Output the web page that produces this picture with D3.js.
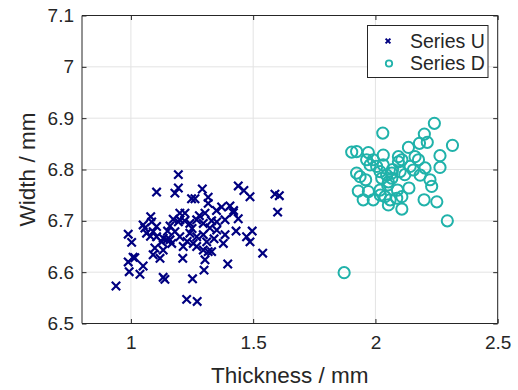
<!DOCTYPE html>
<html>
<head>
<meta charset="utf-8">
<script src="https://cdn.jsdelivr.net/npm/d3@7"></script>
<style>
  html, body { margin: 0; padding: 0; background: #fff; }
  svg { display: block; }
  text { font-family: "Liberation Sans", Arial, Helvetica, sans-serif; fill: #262626; }
</style>
</head>
<body>
<svg id="chart" width="518" height="390"></svg>
<script>
// Series U: thickness (mm) and width (mm) pairs
const seriesUThickness = [
  1.194, 1.105, 1.194, 1.180, 1.292, 1.248, 1.262, 1.316, 1.316, 1.439,
  1.462, 1.487, 1.589, 1.607, 1.600, 1.371, 1.405, 1.419, 1.439, 1.081,
  1.050, 1.057, 0.989, 1.003, 1.091, 1.105, 1.126, 1.160, 1.173, 1.200,
  1.221, 1.241, 1.269, 1.296, 1.323, 1.351, 1.385, 1.241, 1.269, 1.296,
  1.200, 1.214, 1.255, 1.269, 1.296, 1.316, 1.303, 1.212, 1.385, 1.378,
  1.473, 1.496, 1.487, 1.539, 1.396, 1.299, 1.252, 1.132, 1.139, 1.228,
  1.271, 0.939, 0.993, 1.037, 1.050, 0.989, 1.009, 1.016, 1.091, 1.119,
  1.132, 1.098, 1.146, 1.064, 1.310, 1.330, 1.194, 1.180, 1.351, 1.132,
  1.167, 1.105, 1.085, 1.303, 1.200, 1.350, 1.330, 1.220, 1.160, 1.280,
  1.230, 1.080, 1.420, 1.430, 1.250, 1.150, 1.340
];
const seriesUWidth = [
  6.790, 6.756, 6.764, 6.754, 6.762, 6.743, 6.743, 6.746, 6.734, 6.768,
  6.759, 6.747, 6.752, 6.749, 6.717, 6.727, 6.729, 6.716, 6.704, 6.708,
  6.692, 6.686, 6.674, 6.658, 6.679, 6.669, 6.659, 6.663, 6.703, 6.702,
  6.715, 6.695, 6.702, 6.695, 6.686, 6.698, 6.702, 6.676, 6.669, 6.673,
  6.669, 6.650, 6.656, 6.650, 6.643, 6.640, 6.624, 6.627, 6.673, 6.656,
  6.669, 6.680, 6.659, 6.637, 6.616, 6.604, 6.587, 6.590, 6.586, 6.547,
  6.543, 6.573, 6.601, 6.596, 6.612, 6.620, 6.629, 6.628, 6.634, 6.627,
  6.643, 6.647, 6.663, 6.676, 6.659, 6.640, 6.698, 6.679, 6.682, 6.666,
  6.656, 6.689, 6.698, 6.715, 6.715, 6.720, 6.700, 6.700, 6.690, 6.710,
  6.660, 6.670, 6.720, 6.680, 6.685, 6.680, 6.665
];

// Series D: thickness (mm) and width (mm) pairs
const seriesDThickness = [
  2.241, 2.030, 2.200, 2.212, 2.180, 2.315, 2.135, 1.903, 1.923, 1.971,
  2.032, 2.094, 2.162, 2.264, 1.964, 1.991, 2.094, 2.108, 2.176, 1.978,
  2.005, 2.032, 2.142, 2.155, 2.203, 2.264, 1.923, 1.937, 2.019, 2.046,
  2.067, 2.101, 2.183, 2.026, 2.053, 2.067, 2.223, 2.230, 2.137, 1.930,
  1.971, 2.019, 1.950, 1.991, 2.039, 2.060, 2.087, 2.108, 2.053, 2.108,
  2.199, 2.251, 2.294, 1.872, 2.050, 2.070, 2.120, 1.960, 2.020, 2.090
];
const seriesDWidth = [
  6.890, 6.871, 6.869, 6.853, 6.851, 6.847, 6.843, 6.834, 6.835, 6.833,
  6.828, 6.825, 6.825, 6.827, 6.819, 6.819, 6.815, 6.819, 6.819, 6.809,
  6.806, 6.809, 6.806, 6.799, 6.803, 6.804, 6.793, 6.786, 6.796, 6.789,
  6.793, 6.796, 6.789, 6.783, 6.776, 6.783, 6.780, 6.767, 6.764, 6.758,
  6.757, 6.760, 6.741, 6.741, 6.747, 6.741, 6.744, 6.747, 6.731, 6.723,
  6.741, 6.737, 6.700, 6.599, 6.770, 6.800, 6.790, 6.780, 6.750, 6.760
];

const xTicks = [1, 1.5, 2, 2.5];
const yTicks = [6.5, 6.6, 6.7, 6.8, 6.9, 7.0, 7.1];
const seriesNames = ["Series U", "Series D"];

const colorU = "#000080";
const colorD = "#20b2aa";

const svg = d3.select("#chart");
const plotLeft = 82, plotRight = 497.7, plotTop = 15.5, plotBottom = 323.5;

const x = d3.scaleLinear().domain([0.8, 2.5]).range([plotLeft, plotRight]);
const y = d3.scaleLinear().domain([6.5, 7.1]).range([plotBottom, plotTop]);

const fmt = d => d3.format("")(d);

// grid lines
const grid = svg.append("g").attr("stroke", "#e3e3e3").attr("stroke-width", 1);
xTicks.forEach(t => {
  grid.append("line").attr("x1", x(t)).attr("x2", x(t)).attr("y1", plotTop).attr("y2", plotBottom);
});
yTicks.forEach(t => {
  grid.append("line").attr("x1", plotLeft).attr("x2", plotRight).attr("y1", y(t)).attr("y2", y(t));
});

// axes with inward ticks, box on all four sides
const tickLen = 4.5;
const axisColor = "#262626";
const bottomAxis = svg.append("g").attr("transform", `translate(0,${plotBottom})`)
  .call(d3.axisBottom(x).tickValues(xTicks).tickSize(-tickLen).tickPadding(12).tickFormat(fmt));
const leftAxis = svg.append("g").attr("transform", `translate(${plotLeft},0)`)
  .call(d3.axisLeft(y).tickValues(yTicks).tickSize(-tickLen).tickPadding(8).tickFormat(fmt));
const topAxis = svg.append("g").attr("transform", `translate(0,${plotTop})`)
  .call(d3.axisTop(x).tickValues(xTicks).tickSize(-tickLen).tickFormat(""));
const rightAxis = svg.append("g").attr("transform", `translate(${plotRight},0)`)
  .call(d3.axisRight(y).tickValues(yTicks).tickSize(-tickLen).tickFormat(""));

[bottomAxis, leftAxis, topAxis, rightAxis].forEach(g => {
  g.select(".domain").attr("stroke", axisColor).attr("stroke-width", 1);
  g.selectAll(".tick line").attr("stroke", axisColor).attr("stroke-width", 1);
  g.selectAll(".tick text").attr("font-size", 19)
    .attr("font-family", "'Liberation Sans', Arial, sans-serif").attr("fill", axisColor);
});
// straight box edges without d3's outer tick stubs
[bottomAxis, topAxis].forEach(g => g.select(".domain").attr("d", `M${plotLeft},0H${plotRight}`));
[leftAxis, rightAxis].forEach(g => g.select(".domain").attr("d", `M0,${plotTop}V${plotBottom}`));

// axis labels
svg.append("text")
  .attr("x", (plotLeft + plotRight) / 2).attr("y", 383)
  .attr("text-anchor", "middle").attr("font-size", 22.5)
  .text("Thickness / mm");
svg.append("text")
  .attr("transform", `translate(35,${(plotTop + plotBottom) / 2}) rotate(-90)`)
  .attr("text-anchor", "middle").attr("font-size", 22.5)
  .text("Width / mm");

// clip for markers
svg.append("clipPath").attr("id", "plotClip")
  .append("rect").attr("x", plotLeft).attr("y", plotTop)
  .attr("width", plotRight - plotLeft).attr("height", plotBottom - plotTop);

const marks = svg.append("g").attr("clip-path", "url(#plotClip)");

// Series U: x markers
const xs = 4.2;
marks.append("g").selectAll("path")
  .data(d3.range(seriesUThickness.length))
  .join("path")
  .attr("d", i => {
    const cx = x(seriesUThickness[i]), cy = y(seriesUWidth[i]);
    return `M${cx - xs},${cy - xs}L${cx + xs},${cy + xs}M${cx - xs},${cy + xs}L${cx + xs},${cy - xs}`;
  })
  .attr("stroke", colorU).attr("stroke-width", 2.2).attr("fill", "none");

// Series D: open circles
marks.append("g").selectAll("circle")
  .data(d3.range(seriesDThickness.length))
  .join("circle")
  .attr("cx", i => x(seriesDThickness[i]))
  .attr("cy", i => y(seriesDWidth[i]))
  .attr("r", 5.6)
  .attr("fill", "none").attr("stroke", colorD).attr("stroke-width", 2);

// legend
const legend = svg.append("g");
legend.append("rect")
  .attr("x", 367.5).attr("y", 25.5).attr("width", 120.5).attr("height", 52)
  .attr("fill", "#fff").attr("stroke", axisColor).attr("stroke-width", 1);
const ls = 2.4;
legend.append("path")
  .attr("d", `M${388 - ls},${41 - ls}L${388 + ls},${41 + ls}M${388 - ls},${41 + ls}L${388 + ls},${41 - ls}`)
  .attr("stroke", colorU).attr("stroke-width", 2);
legend.append("circle").attr("cx", 389).attr("cy", 63.5).attr("r", 3.2)
  .attr("fill", "none").attr("stroke", colorD).attr("stroke-width", 1.8);
legend.selectAll("text.lg")
  .data(seriesNames)
  .join("text")
  .attr("class", "lg")
  .attr("x", 410).attr("y", (d, i) => 47.5 + i * 22.7)
  .attr("font-size", 19.5)
  .text(d => d);
</script>
</body>
</html>
